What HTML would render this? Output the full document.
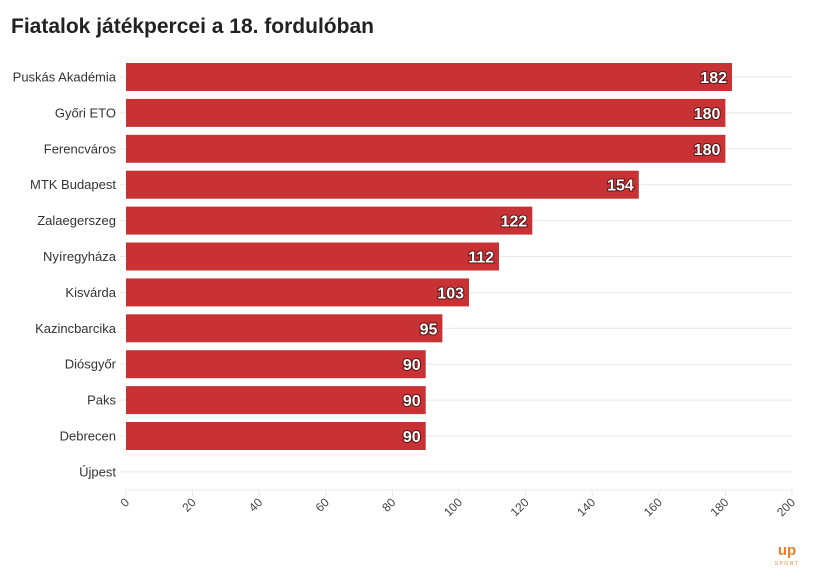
<!DOCTYPE html>
<html><head><meta charset="utf-8"><style>
body{margin:0;background:#fff;width:813px;height:579px;overflow:hidden;font-family:"Liberation Sans",sans-serif}
.lb{font-size:13px;fill:#333;text-anchor:end}
.v{font-size:16px;font-weight:bold;fill:#fff;text-anchor:end;stroke:#5a1517;stroke-width:2px;paint-order:stroke}
.t{font-size:12px;fill:#444;text-anchor:end}
.g{stroke:#e8e8e8}
.b{fill:#c83235}
</style></head><body>
<svg width="813" height="579" xmlns="http://www.w3.org/2000/svg" font-family="Liberation Sans, sans-serif">
<text x="11" y="33" font-size="21" font-weight="bold" fill="#222">Fiatalok játékpercei a 18. fordulóban</text>
<g class="g">
<line x1="120" x2="792" y1="77" y2="77"/><line x1="120" x2="792" y1="112.9" y2="112.9"/><line x1="120" x2="792" y1="148.8" y2="148.8"/><line x1="120" x2="792" y1="184.7" y2="184.7"/><line x1="120" x2="792" y1="220.6" y2="220.6"/><line x1="120" x2="792" y1="256.5" y2="256.5"/><line x1="120" x2="792" y1="292.4" y2="292.4"/><line x1="120" x2="792" y1="328.3" y2="328.3"/><line x1="120" x2="792" y1="364.2" y2="364.2"/><line x1="120" x2="792" y1="400.1" y2="400.1"/><line x1="120" x2="792" y1="436" y2="436"/><line x1="120" x2="792" y1="471.9" y2="471.9"/>
<line x1="126" x2="792" y1="490" y2="490"/>
<line x1="126" x2="126" y1="490" y2="496"/><line x1="192.6" x2="192.6" y1="490" y2="496"/><line x1="259.2" x2="259.2" y1="490" y2="496"/><line x1="325.8" x2="325.8" y1="490" y2="496"/><line x1="392.4" x2="392.4" y1="490" y2="496"/><line x1="459" x2="459" y1="490" y2="496"/><line x1="525.6" x2="525.6" y1="490" y2="496"/><line x1="592.2" x2="592.2" y1="490" y2="496"/><line x1="658.8" x2="658.8" y1="490" y2="496"/><line x1="725.4" x2="725.4" y1="490" y2="496"/><line x1="792" x2="792" y1="490" y2="496"/>
</g>
<g class="b">
<rect x="126" y="63" width="606" height="28"/>
<rect x="126" y="98.9" width="599.4" height="28"/>
<rect x="126" y="134.8" width="599.4" height="28"/>
<rect x="126" y="170.7" width="512.8" height="28"/>
<rect x="126" y="206.6" width="406.3" height="28"/>
<rect x="126" y="242.5" width="373" height="28"/>
<rect x="126" y="278.4" width="343" height="28"/>
<rect x="126" y="314.3" width="316.4" height="28"/>
<rect x="126" y="350.2" width="299.7" height="28"/>
<rect x="126" y="386.1" width="299.7" height="28"/>
<rect x="126" y="422" width="299.7" height="28"/>
</g>
<text class="lb" x="116" y="81.5">Puskás Akadémia</text>
<text class="lb" x="116" y="117.4">Győri ETO</text>
<text class="lb" x="116" y="153.3">Ferencváros</text>
<text class="lb" x="116" y="189.2">MTK Budapest</text>
<text class="lb" x="116" y="225.1">Zalaegerszeg</text>
<text class="lb" x="116" y="261">Nyíregyháza</text>
<text class="lb" x="116" y="296.9">Kisvárda</text>
<text class="lb" x="116" y="332.8">Kazincbarcika</text>
<text class="lb" x="116" y="368.7">Diósgyőr</text>
<text class="lb" x="116" y="404.6">Paks</text>
<text class="lb" x="116" y="440.5">Debrecen</text>
<text class="lb" x="116" y="476.4">Újpest</text>
<text class="v" x="727" y="83">182</text>
<text class="v" x="720.4" y="118.9">180</text>
<text class="v" x="720.4" y="154.8">180</text>
<text class="v" x="633.8" y="190.7">154</text>
<text class="v" x="527.3" y="226.6">122</text>
<text class="v" x="494" y="262.5">112</text>
<text class="v" x="464" y="298.4">103</text>
<text class="v" x="437.4" y="334.3">95</text>
<text class="v" x="420.7" y="370.2">90</text>
<text class="v" x="420.7" y="406.1">90</text>
<text class="v" x="420.7" y="442">90</text>
<text class="t" transform="translate(130,503) rotate(-45)">0</text>
<text class="t" transform="translate(196.6,503) rotate(-45)">20</text>
<text class="t" transform="translate(263.2,503) rotate(-45)">40</text>
<text class="t" transform="translate(329.8,503) rotate(-45)">60</text>
<text class="t" transform="translate(396.4,503) rotate(-45)">80</text>
<text class="t" transform="translate(463,503) rotate(-45)">100</text>
<text class="t" transform="translate(529.6,503) rotate(-45)">120</text>
<text class="t" transform="translate(596.2,503) rotate(-45)">140</text>
<text class="t" transform="translate(662.8,503) rotate(-45)">160</text>
<text class="t" transform="translate(729.4,503) rotate(-45)">180</text>
<text class="t" transform="translate(796,503) rotate(-45)">200</text>
<text x="787" y="555" font-size="15" font-weight="bold" fill="#e8822a" text-anchor="middle">up</text>
<text x="787" y="565" font-size="5" letter-spacing="1.5" fill="#e8822a" text-anchor="middle">SPORT</text>
</svg>
</body></html>
